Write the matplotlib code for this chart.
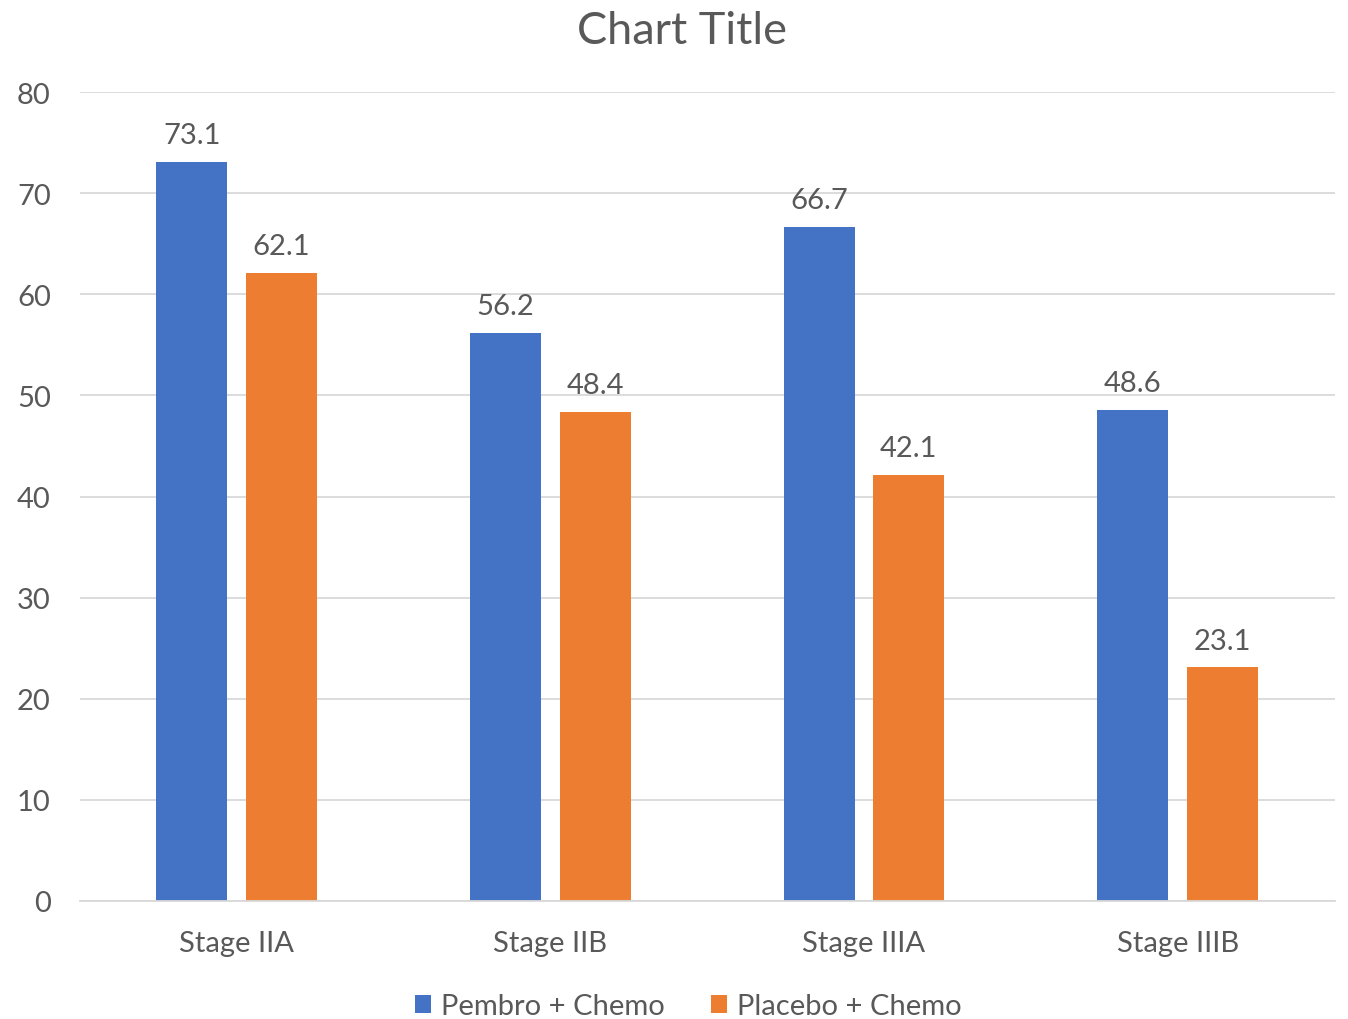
import matplotlib
matplotlib.use("Agg")
import matplotlib.pyplot as plt
import numpy as np

categories = ["Stage IIA", "Stage IIB", "Stage IIIA", "Stage IIIB"]
series_names = ["Pembro + Chemo", "Placebo + Chemo"]
pembro = [73.1, 56.2, 66.7, 48.6]
placebo = [62.1, 48.4, 42.1, 23.1]
y_ticks = [0, 10, 20, 30, 40, 50, 60, 70, 80]

plt.rcParams["font.family"] = ["Lato", "DejaVu Sans"]
text_color = "#595959"
colors = ["#4472C4", "#ED7D31"]

fig = plt.figure(figsize=(13.48, 10.20), dpi=100)
ax = fig.add_axes([0.0593, 0.1157, 0.9307, 0.7931])

x = np.arange(len(categories))
width = 0.226
offset = 0.143

for vals, sign, color, name in [(pembro, -1, colors[0], series_names[0]),
                                (placebo, 1, colors[1], series_names[1])]:
    bars = ax.bar(x + sign * offset, vals, width, color=color, label=name, zorder=3)
    for b, v in zip(bars, vals):
        ax.annotate(f"{v:.1f}", (b.get_x() + b.get_width() / 2, v),
                    xytext=(0, 10), textcoords="offset points",
                    ha="center", va="bottom", fontsize=21, color=text_color)

ax.set_xlim(-0.5, len(categories) - 0.5)
ax.set_ylim(0, 80)
ax.set_yticks(y_ticks)
ax.set_xticks(x)
ax.set_xticklabels(categories)
ax.tick_params(axis="both", length=0, labelsize=21, colors=text_color)
ax.tick_params(axis="y", pad=21)
ax.tick_params(axis="x", pad=21)
ax.grid(axis="y", color="#D9D9D9", linewidth=1.3, zorder=0)
for side in ["top", "right", "left"]:
    ax.spines[side].set_visible(False)
ax.spines["bottom"].set_color("#D9D9D9")
ax.spines["bottom"].set_linewidth(1.3)
ax.spines["bottom"].set_zorder(4)

fig.text(0.506, 0.969, "Chart Title", ha="center", va="center",
         fontsize=32.5, color=text_color)

leg = fig.legend(loc="center", bbox_to_anchor=(0.5108, 0.0125), ncol=2,
                 frameon=False, fontsize=21, handlelength=0.55, handleheight=0.55,
                 handletextpad=0.34, columnspacing=1.6)
for t in leg.get_texts():
    t.set_color(text_color)

fig.savefig("out.png", dpi=100)
